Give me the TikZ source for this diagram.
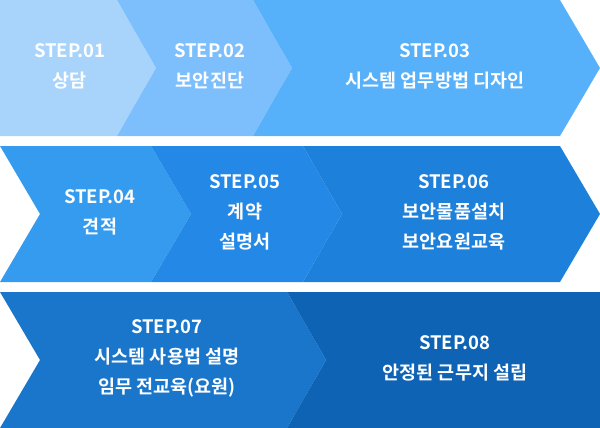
\documentclass[tikz,border=0pt]{standalone}
\usepackage{fontspec}
\setmainfont{Noto Sans CJK KR}[BoldFont={* Bold}]
\usetikzlibrary{positioning}
\definecolor{cA}{HTML}{A8D4FC}
\definecolor{cB}{HTML}{7CBFFC}
\definecolor{cC}{HTML}{56B0FA}
\definecolor{cD}{HTML}{349BEE}
\definecolor{cE}{HTML}{2489E6}
\definecolor{cF}{HTML}{1D80DA}
\definecolor{cG}{HTML}{1976CB}
\definecolor{cH}{HTML}{0E63B4}
\tikzstyle{steptext} = [text=white, font=\bfseries\fontsize{18.5}{30}\selectfont, align=center]

\begin{document}
\begin{tikzpicture}[x=1pt, y=-1pt]
\useasboundingbox (0,0) rectangle (600,428);
% row 1
\fill[cA] (0,0) -- (117,0) -- (156,68) -- (117,136) -- (0,136) -- cycle;
\fill[cB] (117,0) -- (253,0) -- (292,68) -- (253,136) -- (117,136) -- (156,68) -- cycle;
\fill[cC] (253,0) -- (560,0) -- (600,68) -- (560,136) -- (253,136) -- (292,68) -- cycle;
% row 2
\fill[cD] (0,146) -- (151,146) -- (191,214) -- (151,282) -- (0,282) -- (40,214) -- cycle;
\fill[cE] (151,146) -- (303,146) -- (342,214) -- (303,282) -- (151,282) -- (191,214) -- cycle;
\fill[cF] (303,146) -- (560,146) -- (600,214) -- (560,282) -- (303,282) -- (342,214) -- cycle;
% row 3
\fill[cG] (0,292) -- (287,292) -- (326,360) -- (287,428) -- (0,428) -- (40,360) -- cycle;
\fill[cH] (287,292) -- (600,292) -- (600,428) -- (287,428) -- (326,360) -- cycle;

\node (s1) [steptext] at (70,66) {STEP.01\\상담};
\node (s2) [steptext] at (210,66) {STEP.02\\보안진단};
\node (s3) [steptext] at (435,66) {STEP.03\\시스템 업무방법 디자인};
\node (s4) [steptext] at (100,212) {STEP.04\\견적};
\node (s5) [steptext] at (245,212) {STEP.05\\계약\\설명서};
\node (s6) [steptext] at (454,212) {STEP.06\\보안물품설치\\보안요원교육};
\node (s7) [steptext] at (167,358) {STEP.07\\시스템 사용법 설명\\임무 전교육(요원)};
\node (s8) [steptext] at (455,358) {STEP.08\\안정된 근무지 설립};
\end{tikzpicture}
\end{document}
